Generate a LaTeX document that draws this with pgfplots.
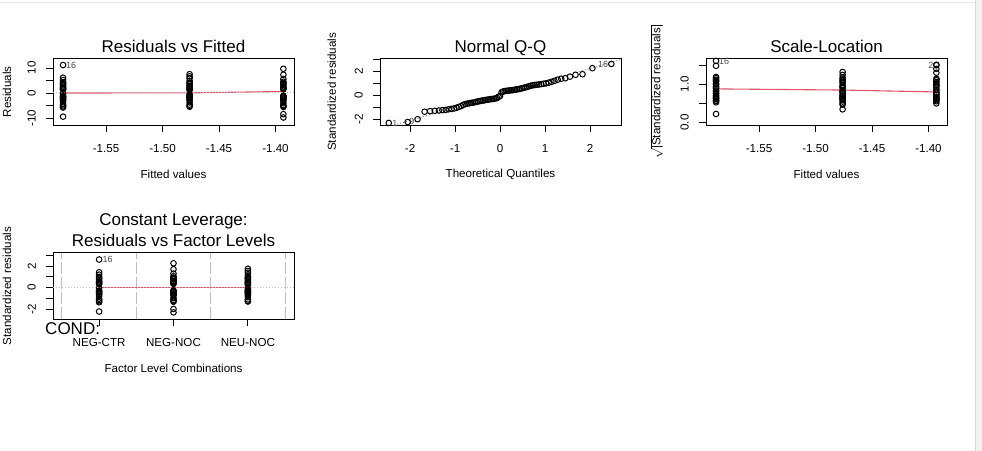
\documentclass[border=0pt]{standalone}
\usepackage{pgfplots}
\pgfplotsset{compat=1.18}
\usepackage{pgfplotstable}
\usepackage{fontspec}
\setmainfont{Liberation Sans}
\definecolor{rred}{HTML}{DF536B}
\definecolor{rgray}{HTML}{BEBEBE}
\definecolor{rgrayfifty}{HTML}{7F7F7F}

% lev fit res std sr  (lev: 0 NEG-CTR, 1 NEG-NOC, 2 NEU-NOC)
\pgfplotstableread{
lev fit res std sr
0 -1.588 -9.46 -2.20 1.483
0 -1.588 -5.81 -1.35 1.162
0 -1.588 -5.38 -1.25 1.118
0 -1.588 -4.95 -1.15 1.072
0 -1.588 -4.39 -1.02 1.010
0 -1.588 -3.35 -0.78 0.883
0 -1.588 -2.80 -0.65 0.806
0 -1.588 -2.45 -0.57 0.755
0 -1.588 -2.02 -0.47 0.686
0 -1.588 -1.72 -0.40 0.632
0 -1.588 -1.42 -0.33 0.574
0 -1.588 -1.20 -0.28 0.529
0 -1.588 -0.22 -0.05 0.224
0 -1.588 1.38 0.32 0.566
0 -1.588 1.63 0.38 0.616
0 -1.588 1.85 0.43 0.656
0 -1.588 2.15 0.50 0.707
0 -1.588 2.49 0.58 0.762
0 -1.588 3.01 0.70 0.837
0 -1.588 3.57 0.83 0.911
0 -1.588 3.87 0.90 0.949
0 -1.588 4.30 1.00 1.000
0 -1.588 5.16 1.20 1.095
0 -1.588 6.11 1.42 1.192
0 -1.588 11.18 2.60 1.612
2 -1.476 -5.50 -1.28 1.131
2 -1.476 -5.16 -1.20 1.095
2 -1.476 -4.64 -1.08 1.039
2 -1.476 -3.78 -0.88 0.938
2 -1.476 -2.92 -0.68 0.825
2 -1.476 -2.58 -0.60 0.775
2 -1.476 -2.15 -0.50 0.707
2 -1.476 -1.81 -0.42 0.648
2 -1.476 -1.51 -0.35 0.592
2 -1.476 -1.29 -0.30 0.548
2 -1.476 -0.95 -0.22 0.469
2 -1.476 -0.52 -0.12 0.346
2 -1.476 1.08 0.25 0.500
2 -1.476 1.59 0.37 0.608
2 -1.476 1.81 0.42 0.648
2 -1.476 2.02 0.47 0.686
2 -1.476 2.37 0.55 0.742
2 -1.476 2.84 0.66 0.812
2 -1.476 3.44 0.80 0.894
2 -1.476 3.78 0.88 0.938
2 -1.476 4.13 0.96 0.980
2 -1.476 4.82 1.12 1.058
2 -1.476 5.93 1.38 1.175
2 -1.476 6.67 1.55 1.245
2 -1.476 7.53 1.75 1.323
1 -1.393 -9.80 -2.28 1.510
1 -1.393 -8.47 -1.97 1.404
1 -1.393 -5.59 -1.30 1.140
1 -1.393 -5.25 -1.22 1.105
1 -1.393 -4.82 -1.12 1.058
1 -1.393 -4.09 -0.95 0.975
1 -1.393 -3.10 -0.72 0.849
1 -1.393 -2.67 -0.62 0.787
1 -1.393 -2.28 -0.53 0.728
1 -1.393 -1.89 -0.44 0.663
1 -1.393 -1.59 -0.37 0.608
1 -1.393 -1.33 -0.31 0.557
1 -1.393 -1.08 -0.25 0.500
1 -1.393 1.51 0.35 0.592
1 -1.393 1.72 0.40 0.632
1 -1.393 1.94 0.45 0.671
1 -1.393 2.24 0.52 0.721
1 -1.393 2.67 0.62 0.787
1 -1.393 3.23 0.75 0.866
1 -1.393 3.70 0.86 0.927
1 -1.393 4.00 0.93 0.964
1 -1.393 4.52 1.05 1.025
1 -1.393 5.59 1.30 1.140
1 -1.393 7.31 1.70 1.304
1 -1.393 9.68 2.25 1.500
}\resid

\pgfplotstableread{
theo std
-2.475 -2.28
-2.054 -2.20
-1.834 -1.97
-1.678 -1.35
-1.555 -1.30
-1.451 -1.28
-1.361 -1.25
-1.282 -1.22
-1.209 -1.20
-1.142 -1.15
-1.080 -1.12
-1.022 -1.08
-0.967 -1.02
-0.915 -0.95
-0.865 -0.88
-0.818 -0.78
-0.772 -0.72
-0.728 -0.68
-0.685 -0.65
-0.643 -0.62
-0.603 -0.60
-0.563 -0.57
-0.524 -0.53
-0.486 -0.50
-0.449 -0.47
-0.413 -0.44
-0.376 -0.42
-0.341 -0.40
-0.306 -0.37
-0.271 -0.35
-0.236 -0.33
-0.202 -0.31
-0.168 -0.30
-0.134 -0.28
-0.100 -0.25
-0.067 -0.22
-0.033 -0.12
0.000 -0.05
0.033 0.25
0.067 0.32
0.100 0.35
0.134 0.37
0.168 0.38
0.202 0.40
0.236 0.42
0.271 0.43
0.306 0.45
0.341 0.47
0.376 0.50
0.413 0.52
0.449 0.55
0.486 0.58
0.524 0.62
0.563 0.66
0.603 0.70
0.643 0.75
0.685 0.80
0.728 0.83
0.772 0.86
0.818 0.88
0.865 0.90
0.915 0.93
0.967 0.96
1.022 1.00
1.080 1.05
1.142 1.12
1.209 1.20
1.282 1.30
1.361 1.38
1.451 1.42
1.555 1.55
1.678 1.70
1.834 1.75
2.054 2.25
2.475 2.60
}\qq

\pgfplotsset{
  rpanel/.style={
    scale only axis, width=241bp, height=66.5bp,
    axis line style={black, line width=0.9bp},
    tick align=outside, tick pos=left, major tick length=7bp,
    every tick/.style={black, line width=0.9bp},
    minor tick num=0,
    tick label style={font=\fontsize{11.6bp}{13bp}\selectfont, inner sep=0pt},
    xticklabel style={anchor=north, yshift=-12bp},
    yticklabel style={xshift=-10bp, rotate=90, anchor=south},
    label style={font=\fontsize{11.6bp}{13bp}\selectfont, inner sep=0pt},
    xlabel style={at={(axis description cs:0.5,-0.745)}, anchor=center},
    title style={at={(axis description cs:0.5,1)}, anchor=base, yshift=0bp,
      font=\fontsize{17bp}{21bp}\selectfont, inner sep=0pt},
    clip=false, scaled ticks=false,
  },
  rpts/.style={only marks, mark=o, mark size=2.8bp,
    mark options={line width=1bp, black}},
}
\tikzset{idlab/.style={font=\fontsize{9bp}{10bp}\selectfont, text=black!70, inner sep=0pt}}

\begin{document}
\begin{tikzpicture}
\path[use as bounding box] (0,0) rectangle (982bp,451bp);
\fill[black!5] (975bp,0) rectangle (982bp,451bp);
\draw[black!15, line width=0.6bp] (975bp,0) -- (975bp,451bp);
\draw[black!10, line width=0.6bp] (0,449bp) -- (975bp,449bp);

% Panel 1: Residuals vs Fitted
\begin{axis}[rpanel, at={(53bp,326bp)}, anchor=south west,
  xmin=-1.5969, xmax=-1.3836, ymin=-12.8, ymax=13.8,
  xtick={-1.55,-1.50,-1.45,-1.40}, xticklabels={-1.55,-1.50,-1.45,-1.40},
  ytick={-10,-5,0,5,10}, yticklabels={-10,,0,,10},
  title={Residuals vs Fitted}, xlabel={Fitted values}, ylabel={Residuals},
  ylabel style={at={(axis description cs:-0.191,0.5)}, anchor=center}]
\addplot[rpts] table[x=fit, y=res] {\resid};
\addplot[rred, line width=1.1bp] coordinates {(-1.588,0) (-1.476,0.05) (-1.393,0.6)};
\addplot[rgray, line width=1bp, dash pattern=on 1bp off 2bp] coordinates {(-1.5969,0) (-1.3836,0)};
\node[idlab, anchor=west] at (axis cs:-1.5855,11.18) {16};
\end{axis}

% Panel 2: Normal Q-Q
\begin{axis}[rpanel, at={(380bp,326bp)}, anchor=south west,
  xmin=-2.67, xmax=2.69, ymin=-2.45, ymax=3.05,
  xtick={-2,-1,0,1,2}, xticklabels={-2,-1,0,1,2},
  ytick={-2,-1,0,1,2,3}, yticklabels={-2,,0,,2,},
  title={Normal Q-Q}, xlabel={Theoretical Quantiles}, ylabel={Standardized residuals},
  ylabel style={at={(axis description cs:-0.2,0.5)}, anchor=center}]
\addplot[rpts] table[x=theo, y=std] {\qq};
\addplot[rgrayfifty, line width=0.9bp, dash pattern=on 1bp off 2bp] coordinates {(-2.349,-2.45) (2.69,2.967)};
\node[idlab, anchor=west] at (axis cs:-2.40,-2.28) {1};
\node[idlab, anchor=west] at (axis cs:-2.02,-2.12) {9};
\node[idlab, anchor=east] at (axis cs:2.41,2.60) {16};
\end{axis}

% Panel 3: Scale-Location
\begin{axis}[rpanel, at={(706bp,326bp)}, anchor=south west,
  xmin=-1.5969, xmax=-1.3836, ymin=-0.064, ymax=1.675,
  xtick={-1.55,-1.50,-1.45,-1.40}, xticklabels={-1.55,-1.50,-1.45,-1.40},
  ytick={0,0.5,1,1.5}, yticklabels={0.0,,1.0,},
  title={Scale-Location}, xlabel={Fitted values},
  ylabel={$\sqrt{\mbox{|Standardized residuals|}}$},
  ylabel style={at={(axis description cs:-0.205,0.5)}, anchor=center}]
\addplot[rpts] table[x=fit, y=sr] {\resid};
\addplot[rred, line width=1.1bp] coordinates {(-1.588,0.88) (-1.476,0.85) (-1.393,0.80)};
\node[idlab, anchor=west] at (axis cs:-1.5855,1.612) {16};
\node[idlab, anchor=east] at (axis cs:-1.3955,1.50) {2};
\end{axis}

% Panel 4: Constant Leverage
\begin{axis}[rpanel, at={(53bp,131.7bp)}, anchor=south west,
  xmin=-0.62, xmax=2.62, ymin=-2.92, ymax=3.22,
  xtick={0,1,2}, xticklabels={NEG-CTR,NEG-NOC,NEU-NOC},
  ytick={-2,-1,0,1,2,3}, yticklabels={-2,,0,,2,},
  title={Constant Leverage:\\Residuals vs Factor Levels},
  title style={align=center},
  xlabel={Factor Level Combinations}, ylabel={Standardized residuals},
  ylabel style={at={(axis description cs:-0.191,0.5)}, anchor=center}]
\addplot[rgray, line width=1.1bp, dash pattern=on 12bp off 3bp] coordinates {(-0.5,-2.92) (-0.5,3.22)};
\addplot[rgray, line width=1.1bp, dash pattern=on 12bp off 3bp] coordinates {(0.5,-2.92) (0.5,3.22)};
\addplot[rgray, line width=1.1bp, dash pattern=on 12bp off 3bp] coordinates {(1.5,-2.92) (1.5,3.22)};
\addplot[rgray, line width=1.1bp, dash pattern=on 12bp off 3bp] coordinates {(2.5,-2.92) (2.5,3.22)};
\addplot[rpts] table[x=lev, y=std] {\resid};
\addplot[rred, line width=1.1bp] coordinates {(0,0) (1,0) (2,0)};
\addplot[rgray, line width=1bp, dash pattern=on 1bp off 2bp] coordinates {(-0.62,0) (2.62,0)};
\node[idlab, anchor=west] at (axis cs:0.045,2.6) {16};
\node[anchor=base west, inner sep=0pt, font=\fontsize{17bp}{20bp}\selectfont] at (axis description cs:-0.033,-0.225) {COND:};
\end{axis}
\end{tikzpicture}
\end{document}
